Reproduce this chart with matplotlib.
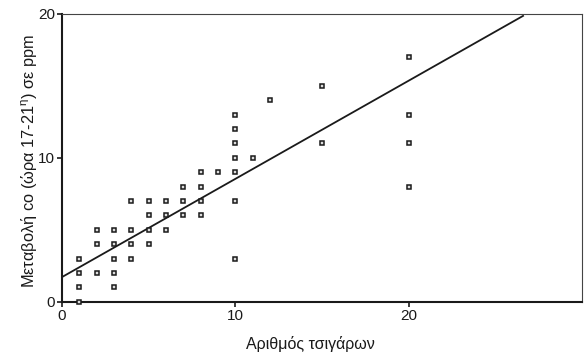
import matplotlib.pyplot as plt
import numpy as np

plt.rcParams['font.family'] = ['Liberation Sans', 'DejaVu Sans']
plt.rcParams['mathtext.fontset'] = 'custom'
plt.rcParams['mathtext.rm'] = 'Liberation Sans'

# Αριθμός τσιγάρων και μεταβολή CO ανά καπνιστή
cigarettes = [1, 1, 1, 1,
              2, 2, 2,
              3, 3, 3, 3, 3,
              4, 4, 4, 4,
              5, 5, 5, 5,
              6, 6, 6,
              7, 7, 7,
              8, 8, 8, 8,
              9,
              10, 10, 10, 10, 10, 10, 10,
              11, 12,
              15, 15,
              20, 20, 20, 20]
co_change = [0, 1, 2, 3,
             5, 4, 2,
             5, 4, 3, 2, 1,
             7, 5, 4, 3,
             7, 6, 5, 4,
             7, 6, 5,
             8, 7, 6,
             9, 8, 7, 6,
             9,
             13, 12, 11, 10, 9, 7, 3,
             10, 14,
             15, 11,
             17, 13, 11, 8]

# ευθεία παλινδρόμησης
intercept = 1.72
slope = 0.682
line_x = [0, 26.6]

fig = plt.figure(figsize=(5.84, 3.56), dpi=100)
ax = fig.add_axes([0.106, 0.152, 0.8906, 0.809])

ax.plot(cigarettes, co_change, linestyle='none', marker='s', markersize=3.0,
        markerfacecolor='#dddddd', markeredgecolor='#1a1a1a', markeredgewidth=1.1,
        clip_on=False, zorder=3)

lx = np.array(line_x)
ax.plot(lx, intercept + slope * lx, color='#1a1a1a', linewidth=1.3)

ax.set_xlim(0, 30)
ax.set_ylim(0, 20)
ax.set_xticks([0, 10, 20])
ax.set_yticks([0, 10, 20])

for side in ['left', 'bottom']:
    ax.spines[side].set_linewidth(1.5)
    ax.spines[side].set_color('#1a1a1a')
for side in ['top', 'right']:
    ax.spines[side].set_linewidth(0.8)
    ax.spines[side].set_color('#444444')

ax.tick_params(direction='out', length=3.6, width=1.2, color='#1a1a1a',
               labelsize=11, labelcolor='#1a1a1a', pad=1.5)

ax.set_xlabel('Αριθμός τσιγάρων', fontsize=11.5, color='#1a1a1a')
ax.set_ylabel('Μεταβολή co (ώρα 17-21$^{\\mathrm{η}}$) σε ppm', fontsize=11.8,
              color='#1a1a1a')
ax.xaxis.set_label_coords(0.477, -0.12)
ax.yaxis.set_label_coords(-0.044, 0.49)

fig.savefig('out.png', dpi=100)
